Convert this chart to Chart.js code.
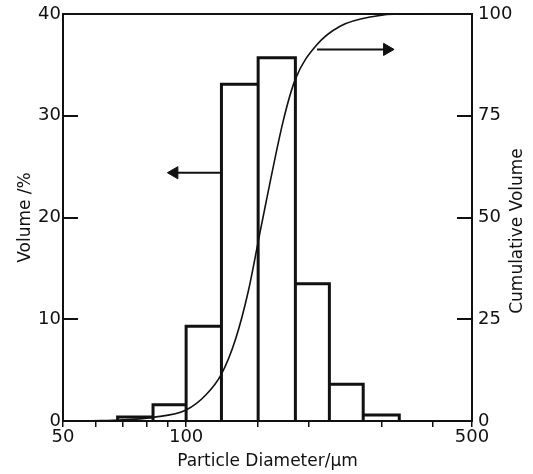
<html>
<head>
<meta charset="utf-8">
<script src="https://cdn.jsdelivr.net/npm/chart.js@4.4.1/dist/chart.umd.min.js"></script>
<title>Particle size distribution</title>
<style>
  body { margin: 0; background: #fff; }
</style>
</head>
<body>
<canvas id="chart" width="533" height="474"></canvas>
<script>
// histogram bins (particle diameter, um) and volume per bin (%)
const binEdges = [68, 83, 100, 122, 150, 185, 224, 271, 332];
const volumePct = [0.4, 1.6, 9.3, 33.1, 35.7, 13.5, 3.6, 0.6];

// cumulative volume curve
const cumDiameter = [52, 62, 70, 83, 100, 112, 122, 132, 142, 150, 157, 173, 185, 209, 238, 287, 335, 380];
const cumVolume   = [0, 0.1, 0.3, 0.9, 2.7, 6.5, 11.5, 20, 32, 44, 54, 74, 84, 92.5, 97, 99.4, 100, 100];

// arrows pointing to the axis each series belongs to
const leftArrowX = [121, 93.6];
const leftArrowY = [24.4, 24.4];
const rightArrowX = [209, 310];
const rightArrowY = [91.3, 91.3];

const xLabels = [50, 100, 500];

const ink = '#111';
const family = 'DejaVu Sans';

// outline of the bars as one path
const barOutline = [];
for (let i = 0; i < volumePct.length; i++) {
  barOutline.push({x: binEdges[i], y: 0});
  barOutline.push({x: binEdges[i], y: volumePct[i]});
  barOutline.push({x: binEdges[i + 1], y: volumePct[i]});
  barOutline.push({x: binEdges[i + 1], y: 0});
}

const cumPoints = cumDiameter.map((d, i) => ({x: d, y: cumVolume[i]}));
const leftArrow = leftArrowX.map((d, i) => ({x: d, y: leftArrowY[i]}));
const rightArrow = rightArrowX.map((d, i) => ({x: d, y: rightArrowY[i]}));

const rightTitle = {
  id: 'rightTitle',
  afterDraw(chart) {
    const ctx = chart.ctx;
    ctx.save();
    ctx.fillStyle = ink;
    ctx.font = '17px "' + family + '"';
    ctx.textAlign = 'center';
    ctx.textBaseline = 'middle';
    ctx.translate(518, 231);
    ctx.rotate(-Math.PI / 2);
    ctx.fillText('Cumulative Volume', 0, 0);
    ctx.restore();
  }
};

// fixed axis sizes; drop the extra label padding chart.js adds above/below
function fixY(width) {
  return s => {
    s.width = width;
    s.paddingTop = 0;
    s.paddingBottom = 0;
  };
}

new Chart(document.getElementById('chart'), {
  type: 'line',
  data: {
    datasets: [
      {
        data: barOutline,
        yAxisID: 'y',
        borderColor: ink,
        borderWidth: 3,
        pointRadius: 0,
        tension: 0,
        borderJoinStyle: 'miter'
      },
      {
        data: cumPoints,
        yAxisID: 'y2',
        borderColor: ink,
        borderWidth: 1.6,
        pointRadius: 0,
        cubicInterpolationMode: 'monotone'
      },
      {
        data: leftArrow,
        yAxisID: 'y',
        borderColor: ink,
        borderWidth: 2,
        pointRadius: [0, 7],
        pointStyle: 'triangle',
        pointRotation: -90,
        pointBackgroundColor: ink,
        pointBorderColor: ink,
        pointBorderWidth: 1
      },
      {
        data: rightArrow,
        yAxisID: 'y2',
        borderColor: ink,
        borderWidth: 2,
        pointRadius: [0, 7],
        pointStyle: 'triangle',
        pointRotation: 90,
        pointBackgroundColor: ink,
        pointBorderColor: ink,
        pointBorderWidth: 1
      }
    ]
  },
  options: {
    responsive: false,
    animation: false,
    layout: { padding: { top: 14, left: 0, right: 0, bottom: 0 } },
    plugins: {
      legend: { display: false },
      tooltip: { enabled: false }
    },
    scales: {
      x: {
        type: 'logarithmic',
        min: 50,
        max: 500,
        afterFit: s => { s.height = 53; },
        border: { display: true, color: ink, width: 2 },
        grid: { drawOnChartArea: false, drawTicks: true, tickLength: 6, color: ink, lineWidth: 1.5 },
        ticks: {
          autoSkip: false,
          maxRotation: 0,
          padding: 0,
          color: ink,
          font: { family: family, size: 18 },
          callback: v => xLabels.includes(v) ? String(v) : ''
        },
        title: {
          display: true,
          text: 'Particle Diameter/\u00b5m',
          color: ink,
          font: { family: family, size: 17 },
          padding: { top: 0, bottom: 2 }
        }
      },
      y: {
        position: 'left',
        min: 0,
        max: 40,
        afterFit: fixY(63),
        border: { display: true, color: ink, width: 2 },
        grid: {
          drawOnChartArea: true,
          drawTicks: true,
          tickLength: -15,
          lineWidth: 2,
          color: c => c.tick && c.tick.value === 40 ? ink : 'rgba(0,0,0,0)',
          tickColor: ink
        },
        ticks: {
          stepSize: 10,
          padding: 17,
          color: ink,
          font: { family: family, size: 18 }
        },
        title: {
          display: true,
          text: 'Volume /%',
          color: ink,
          font: { family: family, size: 17 },
          padding: { top: 15, bottom: 0 }
        }
      },
      y2: {
        position: 'right',
        min: 0,
        max: 100,
        afterFit: fixY(61),
        border: { display: true, color: ink, width: 2 },
        grid: {
          drawOnChartArea: false,
          drawTicks: true,
          tickLength: -15,
          lineWidth: 2,
          color: ink
        },
        ticks: {
          stepSize: 25,
          padding: 21,
          color: ink,
          font: { family: family, size: 18 }
        }
      }
    }
  },
  plugins: [rightTitle]
});
</script>
</body>
</html>
